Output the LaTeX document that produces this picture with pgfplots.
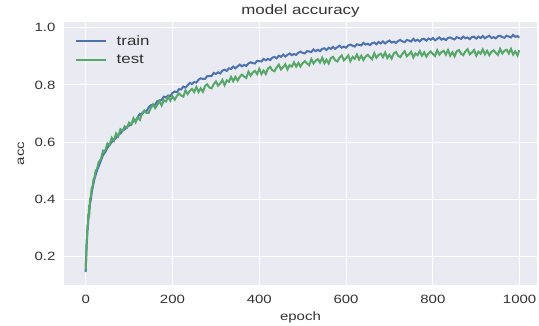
\documentclass[border=0pt]{standalone}
\usepackage{fontspec}
\setmainfont{Liberation Sans}[FakeStretch=1.25]
\usepackage{pgfplots}
\usepackage{pgfplotstable}
\pgfplotsset{compat=1.18}
\definecolor{sbbg}{HTML}{EAEAF2}
\definecolor{sbblue}{HTML}{4C72B0}
\definecolor{sbgreen}{HTML}{55A868}
\definecolor{sbtext}{HTML}{333333}
\pgfplotstableread{
epoch train test
0 0.145 0.15
1 0.19 0.20
2 0.23 0.25
3 0.26 0.27
4 0.29 0.31
5 0.30 0.30
6 0.33 0.35
7 0.34 0.34
8 0.36 0.38
9 0.37 0.37
10 0.385 0.40
12 0.40 0.41
14 0.425 0.44
16 0.44 0.445
18 0.455 0.47
20 0.47 0.475
23 0.485 0.50
26 0.50 0.505
30 0.515 0.53
35 0.535 0.54
40 0.555 0.57
45 0.565 0.57
50 0.58 0.595
55 0.59 0.59
60 0.60 0.615
65 0.607 0.605
70 0.615 0.63
75 0.625 0.62
80 0.63 0.645
85 0.64 0.64
90 0.645 0.655
95 0.652 0.65
100 .658 .668
105 .661 .661
110 .675 .683
115 .675 .669
120 .688 .686
125 .699 .678
130 .698 .701
135 .707 .710
140 .708 .702
145 .721 .702
150 .729 .719
155 .729 .732
160 .731 .719
165 .743 .730
170 .745 .744
175 .747 .728
180 .759 .746
185 .756 .742
190 .763 .759
195 .761 .745
200 .772 .760
205 .777 .748
210 .774 .761
215 .785 .770
220 .784 .763
225 .794 .759
230 .790 .781
235 .799 .768
240 .807 .779
245 .803 .786
250 .810 .775
255 .808 .793
260 .818 .775
265 .823 .788
270 .821 .776
275 .821 .796
280 .831 .802
285 .831 .791
290 .831 .788
295 .842 .802
300 .838 .812
305 .844 .797
310 .840 .805
315 .850 .817
320 .853 .799
325 .849 .816
330 .858 .811
335 .856 .828
340 .864 .813
345 .858 .828
350 .865 .815
355 .871 .828
360 .865 .836
365 .870 .829
370 .866 .824
375 .875 .846
380 .879 .832
385 .876 .843
390 .875 .849
395 .884 .838
400 .883 .856
405 .882 .838
410 .891 .850
415 .886 .838
420 .891 .857
425 .887 .863
430 .895 .851
435 .898 .848
440 .893 .861
445 .902 .871
450 .898 .854
455 .906 .862
460 .899 .872
465 .905 .854
470 .910 .869
475 .904 .864
480 .908 .879
485 .905 .864
490 .913 .877
495 .916 .864
500 .912 .876
505 .910 .883
510 .918 .875
515 .917 .869
520 .915 .890
525 .924 .875
530 .918 .885
535 .923 .890
540 .918 .878
545 .926 .895
550 .928 .876
555 .922 .888
560 .930 .875
565 .926 .894
570 .933 .898
575 .926 .886
580 .932 .882
585 .937 .895
590 .930 .903
595 .934 .886
600 .930 .893
605 .938 .903
610 .941 .883
615 .937 .898
620 .934 .891
625 .942 .906
630 .940 .889
635 .938 .902
640 .947 .887
645 .941 .899
650 .944 .905
655 .939 .897
660 .946 .890
665 .948 .911
670 .942 .895
675 .950 .905
680 .945 .909
685 .952 .897
690 .945 .913
695 .951 .894
700 .955 .905
705 .948 .892
710 .951 .910
715 .947 .915
720 .954 .902
725 .957 .897
730 .952 .909
735 .950 .918
740 .957 .900
745 .955 .907
750 .952 .916
755 .961 .896
760 .954 .910
765 .958 .904
770 .952 .918
775 .960 .902
780 .961 .914
785 .955 .899
790 .962 .910
795 .958 .917
800 .964 .908
805 .956 .901
810 .961 .921
815 .966 .906
820 .958 .915
825 .962 .919
830 .957 .906
835 .964 .922
840 .966 .902
845 .962 .914
850 .959 .900
855 .967 .918
860 .964 .922
865 .961 .909
870 .969 .904
875 .963 .917
880 .966 .925
885 .960 .907
890 .967 .913
895 .969 .922
900 .962 .902
905 .969 .916
910 .964 .909
915 .971 .924
920 .963 .907
925 .968 .919
930 .972 .904
935 .964 .915
940 .967 .921
945 .963 .912
950 .970 .905
955 .972 .926
960 .967 .910
965 .965 .919
970 .972 .923
975 .969 .910
980 .966 .926
985 .975 .906
990 .968 .917
995 .971 .903
999 .965 .921
}\acctable
\begin{document}
\begin{tikzpicture}
\begin{axis}[
  at={(0,0)}, anchor=south west,
  scale only axis, width=473pt, height=263pt,
  xmin=-50, xmax=1040, ymin=0.10, ymax=1.02,
  axis background/.style={fill=sbbg},
  axis line style={draw=none},
  major tick length=0pt,
  grid=major, grid style={white, line width=0.9pt},
  xtick={0,200,400,600,800,1000},
  ytick={0.2,0.4,0.6,0.8,1.0},
  /pgf/number format/assume math mode=true,
  /pgf/number format/1000 sep={},
  ticklabel style={font=\fontsize{12}{14}\selectfont, text=sbtext},
  yticklabel style={/pgf/number format/fixed, /pgf/number format/fixed zerofill, /pgf/number format/precision=1, xshift=-5pt},
  xticklabel style={yshift=-7pt},
  title={model accuracy},
  title style={font=\fontsize{13.5}{15}\selectfont, text=sbtext, at={(axis description cs:0.5,1)}, anchor=center, yshift=5pt},
  xlabel={epoch},
  xlabel style={font=\fontsize{12}{14}\selectfont, text=sbtext, at={(axis description cs:0.5,0)}, anchor=center, yshift=-32pt},
  ylabel={acc},
  ylabel style={font=\fontsize{12}{14}\selectfont, text=sbtext, at={(axis description cs:0,0.5)}, anchor=center, yshift=43pt},
  legend style={draw=none, fill=none, at={(axis description cs:0,1)}, anchor=north west, xshift=8pt, yshift=-9.5pt, font=\fontsize{13.5}{15}\selectfont, text=sbtext, row sep=4pt, /tikz/every odd column/.append style={column sep=7.5pt}},
  legend cell align=left,
  legend image code/.code={\draw[#1, line width=2pt] (0pt,0pt) -- (30pt,0pt);},
]
\addplot[sbblue, line width=2pt] table[x=epoch, y=train] {\acctable};
\addlegendentry{train}
\addplot[draw=sbgreen, color=sbgreen, line width=2pt] table[x=epoch, y=test] {\acctable};
\addlegendentry{test}
\end{axis}
\pgfresetboundingbox
\useasboundingbox (-64pt,-41pt) rectangle (475pt,285pt);
\end{tikzpicture}
\end{document}
